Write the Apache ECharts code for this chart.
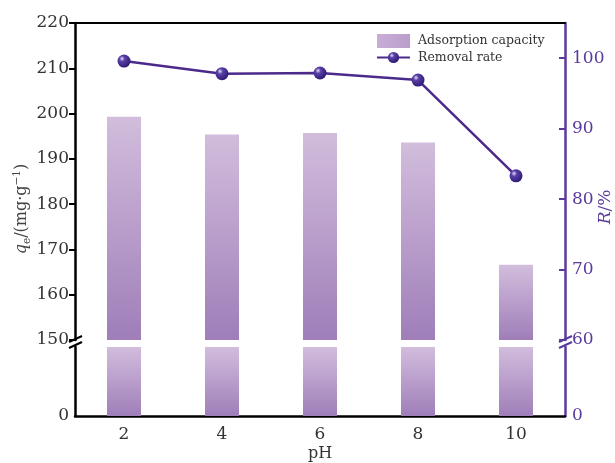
<!DOCTYPE html>
<html>
<head>
<meta charset="utf-8">
<script src="https://cdn.jsdelivr.net/npm/echarts@6/dist/echarts.min.js"></script>
<style>html,body{margin:0;padding:0;background:#fff}#c{width:615px;height:463px}</style>
</head>
<body>
<div id="c"></div>
<script>
const categories = ['2', '4', '6', '8', '10'];
const capacity = [199.3, 195.4, 195.7, 193.6, 166.6];
const removal = [99.6, 97.8, 97.9, 96.9, 83.3];
const leftUpper = { min: 150, max: 220, interval: 10 };
const rightUpper = { min: 60, max: 105, interval: 10 };
const lowerRange = { min: 0, max: 100, interval: 100 };

const FONT = 'DejaVu Serif';
const PURPLE = '#5a3a9c';
const TEXT = '#333';
const G = { left: 75, right: 50, top: 23, upperBottom: 340, lowerTop: 347, bottomY: 416 };
const W = 615, H = 463;

const barGrad = {
  type: 'linear', x: 0, y: 0, x2: 0, y2: 1,
  colorStops: [{ offset: 0, color: '#d2bddc' }, { offset: 1, color: '#9f7eb9' }]
};
const markerGrad = {
  type: 'radial', x: 0.35, y: 0.32, r: 0.75,
  colorStops: [{ offset: 0, color: '#e6e0f5' }, { offset: 0.28, color: '#5a40a8' }, { offset: 1, color: '#2a1670' }]
};

const chart = echarts.init(document.getElementById('c'), null, { renderer: 'canvas' });
const lab = (c) => ({ fontFamily: FONT, fontSize: 17, color: c });
const legendText = { fontFamily: FONT, fontSize: 12.5, color: TEXT, padding: [0, 0, 0, 3] };

chart.setOption({
  animation: false,
  backgroundColor: '#fff',
  grid: [
    { left: G.left, right: G.right, top: G.top, bottom: H - G.upperBottom },
    { left: G.left, right: G.right, top: G.lowerTop, bottom: H - G.bottomY }
  ],
  legend: {
    left: 371, top: 29, orient: 'vertical', itemGap: 3,
    itemWidth: 33, itemHeight: 14,
    textStyle: legendText,
    data: [
      { name: 'Adsorption capacity', icon: 'rect', textStyle: legendText, itemStyle: { color: { type: 'linear', x: 0, y: 0, x2: 1, y2: 0, colorStops: [{ offset: 0, color: '#c8aed6' }, { offset: 1, color: '#b99ecb' }] } } },
      { name: 'Removal rate', textStyle: legendText }
    ]
  },
  xAxis: [
    {
      type: 'category', gridIndex: 0, data: categories, position: 'top',
      axisLine: { show: true, lineStyle: { color: '#000', width: 2 } },
      axisTick: { show: false }, axisLabel: { show: false }
    },
    {
      type: 'category', gridIndex: 1, data: categories, position: 'bottom',
      axisLine: { show: true, lineStyle: { color: '#000', width: 2.5 } },
      axisTick: { show: true, alignWithLabel: true, inside: true, length: 6, lineStyle: { color: '#000', width: 2 } },
      axisLabel: Object.assign(lab(TEXT), { margin: 10 }),
      name: 'pH', nameLocation: 'middle', nameGap: 30,
      nameTextStyle: { fontFamily: FONT, fontSize: 16, color: TEXT }
    }
  ],
  yAxis: [
    {
      type: 'value', gridIndex: 0, position: 'left', min: leftUpper.min, max: leftUpper.max, interval: leftUpper.interval,
      axisLine: { show: true, lineStyle: { color: '#000', width: 2.5 } },
      axisTick: { show: true, inside: false, length: 6, lineStyle: { color: '#000', width: 2 } },
      axisLabel: Object.assign(lab(TEXT), { margin: 6 }),
      splitLine: { show: false }
    },
    {
      type: 'value', gridIndex: 0, position: 'right', min: rightUpper.min, max: rightUpper.max, interval: rightUpper.interval,
      axisLine: { show: true, lineStyle: { color: PURPLE, width: 2.5 } },
      axisTick: { show: true, inside: true, length: 6, lineStyle: { color: PURPLE, width: 2 } },
      axisLabel: Object.assign(lab(PURPLE), { margin: 7, showMaxLabel: false }),
      splitLine: { show: false }
    },
    {
      type: 'value', gridIndex: 1, position: 'left', min: lowerRange.min, max: lowerRange.max, interval: lowerRange.interval,
      axisLine: { show: true, lineStyle: { color: '#000', width: 2.5 } },
      axisTick: { show: false },
      axisLabel: Object.assign(lab(TEXT), { margin: 6, showMaxLabel: false }),
      splitLine: { show: false }
    },
    {
      type: 'value', gridIndex: 1, position: 'right', min: lowerRange.min, max: lowerRange.max, interval: lowerRange.interval,
      axisLine: { show: true, lineStyle: { color: PURPLE, width: 2.5 } },
      axisTick: { show: false },
      axisLabel: Object.assign(lab(PURPLE), { margin: 7, showMaxLabel: false }),
      splitLine: { show: false }
    }
  ],
  series: [
    {
      name: 'Adsorption capacity', type: 'bar', xAxisIndex: 0, yAxisIndex: 0,
      data: capacity, barWidth: 34, clip: true, itemStyle: { color: barGrad }
    },
    {
      name: 'Adsorption capacity', type: 'bar', xAxisIndex: 1, yAxisIndex: 2,
      data: capacity, barWidth: 34, clip: true, itemStyle: { color: barGrad }
    },
    {
      name: 'Removal rate', type: 'line', xAxisIndex: 0, yAxisIndex: 1,
      data: removal, symbol: 'circle', symbolSize: 13, z: 5,
      lineStyle: { color: '#4b2a8c', width: 2.5 },
      itemStyle: { color: markerGrad, borderWidth: 0 }
    }
  ],
  graphic: [
    { type: 'polyline', shape: { points: [[69, 342], [82, 336]] }, style: { stroke: '#000', lineWidth: 2, fill: null }, z: 10 },
    { type: 'polyline', shape: { points: [[69, 348], [82, 342]] }, style: { stroke: '#000', lineWidth: 2, fill: null }, z: 10 },
    { type: 'polyline', shape: { points: [[559, 342], [572, 336]] }, style: { stroke: PURPLE, lineWidth: 2, fill: null }, z: 10 },
    { type: 'polyline', shape: { points: [[559, 348], [572, 342]] }, style: { stroke: PURPLE, lineWidth: 2, fill: null }, z: 10 },
    {
      type: 'text', x: 22, y: 209, rotation: Math.PI / 2, z: 10,
      style: {
        text: '{i|q}{sub|e}{n|/(mg·g}{sup|−1}{n|)}',
        align: 'center', verticalAlign: 'middle',
        rich: {
          i: { fontFamily: FONT, fontSize: 16, fontStyle: 'italic', fill: '#444' },
          n: { fontFamily: FONT, fontSize: 16, fill: '#444' },
          sub: { fontFamily: FONT, fontSize: 10.5, fill: '#444', padding: [10, 0, 0, 0] },
          sup: { fontFamily: FONT, fontSize: 10.5, fill: '#444', padding: [0, 0, 10, 0] }
        }
      }
    },
    {
      type: 'text', x: 606, y: 207, rotation: Math.PI / 2, z: 10,
      style: {
        text: '{i|R}{n|/%}', align: 'center', verticalAlign: 'middle',
        rich: {
          i: { fontFamily: FONT, fontSize: 17, fontStyle: 'italic', fill: PURPLE },
          n: { fontFamily: FONT, fontSize: 17, fill: PURPLE }
        }
      }
    }
  ]
});
</script>
</body>
</html>
